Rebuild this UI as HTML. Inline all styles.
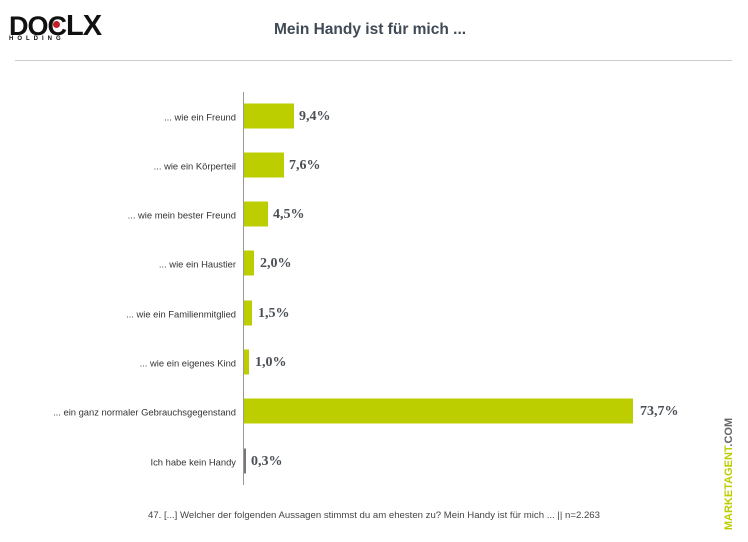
<!DOCTYPE html>
<html><head><style>
body{margin:0;width:748px;height:542px;background:#fff;font-family:"Liberation Sans",sans-serif;position:relative;overflow:hidden}
.a{position:absolute}
.lbl{position:absolute;right:512px;font-size:9.4px;color:#333;white-space:nowrap;transform:translateY(-50%)}
.bar{position:absolute;left:244px;height:25px;background:#bccd00;transform:translateY(-50%)}
.val{position:absolute;font-family:"Liberation Serif",serif;font-weight:bold;font-size:14px;color:#4a4f55;transform:translateY(-50%)}
</style></head><body>
<div class="a" style="left:9px;top:13px;font-weight:900;font-size:27px;letter-spacing:-1px;color:#111;line-height:26px">DOC<span style="font-size:29px">LX</span></div>
<div class="a" style="left:53px;top:21px;width:7px;height:7px;border-radius:50%;background:#c0202a"></div>
<div class="a" style="left:9px;top:36px;font-size:6px;font-weight:bold;letter-spacing:4px;color:#111">HOLDING</div>
<div class="a" style="left:274px;top:21px;font-size:15.5px;font-weight:bold;color:#3f4a55">Mein Handy ist für mich ...</div>
<div class="a" style="left:15px;top:60px;width:717px;height:1px;background:#ccc"></div>
<div class="a" style="left:243px;top:92px;width:1px;height:393px;background:#999"></div>

<div class="lbl" style="top:117px">... wie ein Freund</div><div class="bar" style="top:116px;width:50px"></div><div class="val" style="top:117px;left:299px">9,4%</div>
<div class="lbl" style="top:166px">... wie ein Körperteil</div><div class="bar" style="top:165px;width:40px"></div><div class="val" style="top:166px;left:289px">7,6%</div>
<div class="lbl" style="top:215px">... wie mein bester Freund</div><div class="bar" style="top:214px;width:24px"></div><div class="val" style="top:215px;left:273px">4,5%</div>
<div class="lbl" style="top:264px">... wie ein Haustier</div><div class="bar" style="top:263px;width:10px"></div><div class="val" style="top:264px;left:260px">2,0%</div>
<div class="lbl" style="top:314px">... wie ein Familienmitglied</div><div class="bar" style="top:313px;width:8px"></div><div class="val" style="top:314px;left:258px">1,5%</div>
<div class="lbl" style="top:363px">... wie ein eigenes Kind</div><div class="bar" style="top:362px;width:5px"></div><div class="val" style="top:363px;left:255px">1,0%</div>
<div class="lbl" style="top:412px">... ein ganz normaler Gebrauchsgegenstand</div><div class="bar" style="top:411px;width:389px"></div><div class="val" style="top:412px;left:640px">73,7%</div>
<div class="lbl" style="top:462px">Ich habe kein Handy</div><div class="bar" style="top:461px;width:2px;background:#777"></div><div class="val" style="top:462px;left:251px">0,3%</div>

<div class="a" style="left:0;width:748px;top:510px;text-align:center;font-size:9.6px;color:#444">47. [...] Welcher der folgenden Aussagen stimmst du am ehesten zu? Mein Handy ist für mich ... || n=2.263</div>
<div class="a" style="left:729px;top:474px;transform:translate(-50%,-50%) rotate(-90deg);font-size:11px;font-weight:bold;white-space:nowrap;color:#bccd00">MARKETAGENT<span style="color:#666">.COM</span></div>
</body></html>
